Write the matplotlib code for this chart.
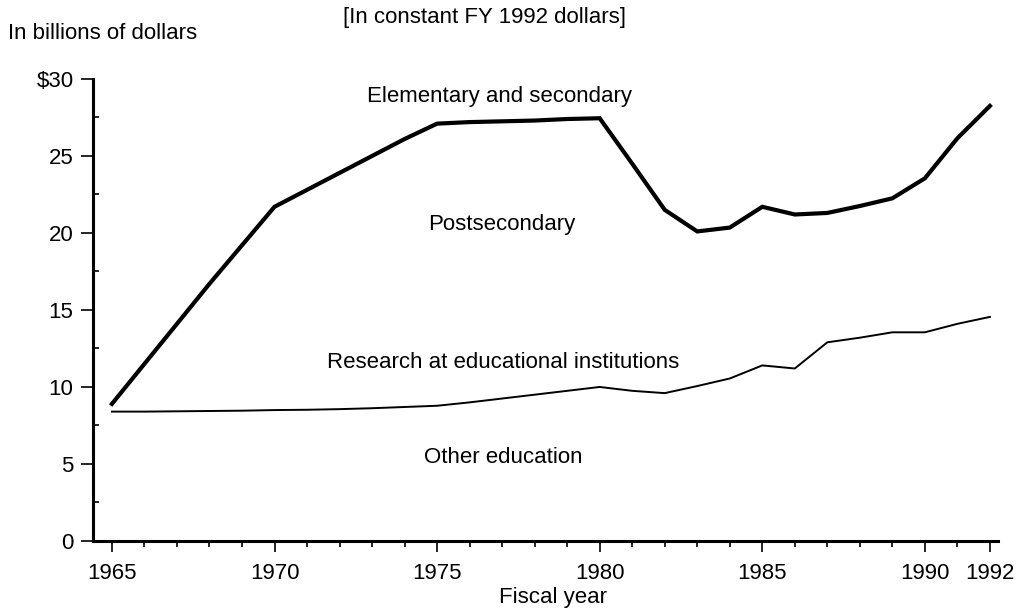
import matplotlib
matplotlib.use("Agg")
import matplotlib.pyplot as plt
from matplotlib.ticker import MultipleLocator, FixedLocator

years = list(range(1965, 1993))
# Total federal education support (top, thick line)
total = [8.9, 11.5, 14.1, 16.7, 19.2, 21.7, 22.8, 23.9, 25.0, 26.1, 27.1,
         27.2, 27.25, 27.3, 27.4, 27.45, 24.5, 21.5, 20.1, 20.35, 21.7,
         21.2, 21.3, 21.75, 22.25, 23.55, 26.15, 28.25]
# Research + other education (bottom, thin line)
lower = [8.4, 8.4, 8.42, 8.44, 8.46, 8.5, 8.52, 8.56, 8.62, 8.7, 8.78,
         9.0, 9.25, 9.5, 9.75, 10.0, 9.75, 9.6, 10.06, 10.55, 11.4,
         11.2, 12.9, 13.2, 13.55, 13.55, 14.1, 14.55]

xtick_vals = [1965, 1970, 1975, 1980, 1985, 1990, 1992]
xtick_labels = ["1965", "1970", "1975", "1980", "1985", "1990", "1992"]
ytick_vals = [0, 5, 10, 15, 20, 25, 30]
ytick_labels = ["0", "5", "10", "15", "20", "25", "$30"]

region_labels = ["Elementary and secondary", "Postsecondary",
                 "Research at educational institutions", "Other education"]
region_pos = [(1976.92, 28.83), (1976.98, 20.58), (1977.04, 11.62), (1977.04, 5.39)]

plt.rcParams['font.family'] = ['Liberation Sans', 'DejaVu Sans']
fs = 16

fig = plt.figure(figsize=(10.18, 6.16), dpi=100)
ax = fig.add_axes([0.0914, 0.1218, 0.889, 0.75])

ax.plot(years, total, color='black', lw=3.0, solid_joinstyle='miter')
ax.plot(years, lower, color='black', lw=1.4)

ax.set_xlim(1964.42, 1992.25)
ax.set_ylim(0, 30)

for s in ['top', 'right']:
    ax.spines[s].set_visible(False)
for s in ['left', 'bottom']:
    ax.spines[s].set_linewidth(2.2)

ax.xaxis.set_major_locator(FixedLocator(xtick_vals))
ax.set_xticklabels(xtick_labels)
ax.xaxis.set_minor_locator(MultipleLocator(1))
ax.yaxis.set_major_locator(FixedLocator(ytick_vals))
ax.set_yticklabels(ytick_labels)
ax.yaxis.set_minor_locator(MultipleLocator(2.5))

ax.tick_params(axis='x', which='major', direction='out', length=8, width=1.2,
               labelsize=fs, pad=8)
ax.tick_params(axis='x', which='minor', direction='out', length=4, width=1.2)
ax.tick_params(axis='y', which='major', direction='out', length=9, width=1.2,
               labelsize=fs, pad=5)
ax.tick_params(axis='y', which='minor', direction='in', length=4, width=1.2)

ax.set_xlabel("Fiscal year", fontsize=fs, va='center')
ax.xaxis.set_label_coords(0.508, -0.123)

for txt, (x, y) in zip(region_labels, region_pos):
    ax.text(x, y, txt, ha='center', va='center', fontsize=fs)

fig.text(0.008, 0.946, "In billions of dollars", ha='left', va='center', fontsize=fs)
fig.text(0.337, 0.972, "[In constant FY 1992 dollars]", ha='left', va='center', fontsize=fs)

fig.savefig("out.png", dpi=100)
